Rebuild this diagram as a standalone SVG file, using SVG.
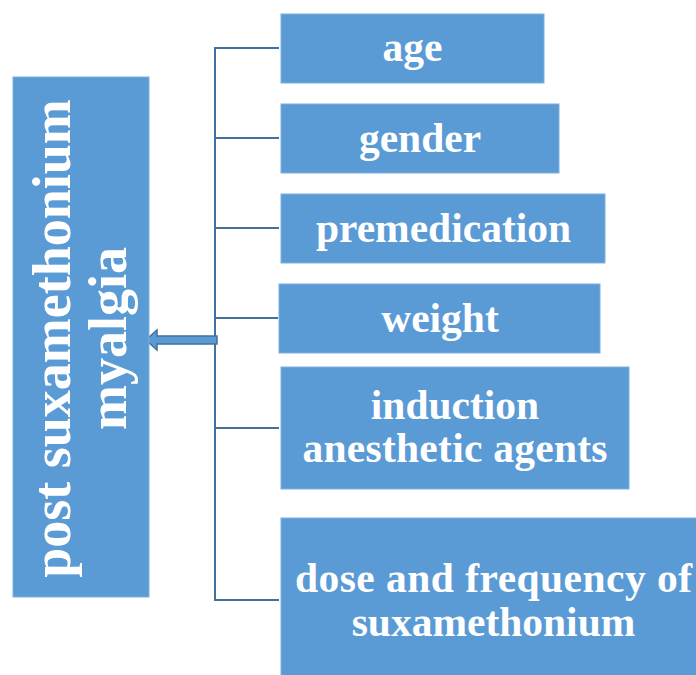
<svg xmlns="http://www.w3.org/2000/svg" width="696" height="675" viewBox="0 0 696 675">
<style>
.box{fill:#5B9BD5;stroke:#7DB0E0;stroke-width:1}
.t{font-family:"Liberation Serif","Times New Roman",serif;font-weight:bold;fill:#FFFFFF;text-anchor:middle}
.h{font-size:41.5px}
.v{font-size:54px}
.ln{stroke:#41719C;stroke-width:2;fill:none}
</style>
<rect width="696" height="675" fill="#FFFFFF"/>
<g id="connectors">
<line class="ln" x1="215" y1="47" x2="215" y2="601"/>
<line class="ln" x1="214" y1="48" x2="279" y2="48"/>
<line class="ln" x1="214" y1="138" x2="279" y2="138"/>
<line class="ln" x1="214" y1="228" x2="279" y2="228"/>
<line class="ln" x1="214" y1="318" x2="278" y2="318"/>
<line class="ln" x1="214" y1="428" x2="279" y2="428"/>
<line class="ln" x1="214" y1="600" x2="279" y2="600"/>
<path d="M217,336 L157,336 L157,330 L146,340 L157,350 L157,344 L217,344 Z" fill="#5B9BD5" stroke="#41719C" stroke-width="1.5" stroke-linejoin="miter"/>
</g>
<g id="main">
<rect class="box" x="13" y="77" width="136" height="520"/>
<g transform="translate(0,338.5) rotate(-90)">
<text class="t v" x="0" y="70">post suxamethonium</text>
<text class="t v" x="0" y="126">myalgia</text>
</g>
</g>
<g id="age">
<rect class="box" x="281" y="14" width="263" height="69"/>
<text class="t h" x="412.5" y="61">age</text>
</g>
<g id="gender">
<rect class="box" x="281" y="104" width="278" height="69"/>
<text class="t h" x="420" y="152">gender</text>
</g>
<g id="premedication">
<rect class="box" x="281" y="194" width="324" height="69"/>
<text class="t h" x="443.5" y="242">premedication</text>
</g>
<g id="weight">
<rect class="box" x="279" y="284" width="321" height="69"/>
<text class="t h" x="440" y="332">weight</text>
</g>
<g id="induction">
<rect class="box" x="281" y="367" width="348" height="122"/>
<text class="t h" x="455" y="419">induction</text>
<text class="t h" x="455" y="462" textLength="305" lengthAdjust="spacing">anesthetic agents</text>
</g>
<g id="dose">
<rect class="box" x="281" y="518" width="430" height="170"/>
<text class="t h" x="493.5" y="592" textLength="397" lengthAdjust="spacing">dose and frequency of</text>
<text class="t h" x="493.5" y="636">suxamethonium</text>
</g>
</svg>
